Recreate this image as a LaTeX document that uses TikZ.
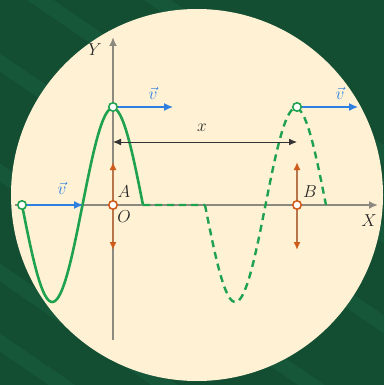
\documentclass[tikz,border=0pt]{standalone}
\usepackage{xcolor}
\usepackage{tikz}
\usetikzlibrary{calc,arrows.meta}
\definecolor{board}{HTML}{134E33}
\definecolor{stripe}{HTML}{1F6A45}
\definecolor{paper}{HTML}{FFF2D4}
\definecolor{axisgrey}{HTML}{8C8A80}
\definecolor{wave}{HTML}{1FA24F}
\definecolor{speed}{HTML}{2F7FE0}
\definecolor{swing}{HTML}{CF5A1A}
\definecolor{swingline}{HTML}{B8744A}

\begin{document}
\begin{tikzpicture}[x=1pt, y=-1pt,
    axis/.style={draw=axisgrey, line width=1.8pt, -{Latex[length=9pt,width=8pt]}},
    wavesolid/.style={draw=wave, line width=2.6pt},
    wavedash/.style={draw=wave, line width=2.4pt, dash pattern=on 7pt off 5pt},
    velocity/.style={draw=speed, line width=1.3pt, -{Latex[length=9pt,width=8pt]}},
    shake/.style={draw=swingline, line width=1.6pt, {Latex[length=8pt,width=7pt,color=swing]}-{Latex[length=8pt,width=7pt,color=swing]}},
    marker/.style={circle, draw=#1, fill=white, line width=1.6pt, inner sep=0pt, minimum size=8.5pt},
    lbl/.style={font=\fontsize{17}{20}\selectfont, text=black!85},
    vlbl/.style={font=\fontsize{17}{20}\selectfont, text=speed}]
  % background board and the cream disc
  \fill[board] (0,0) rectangle (384,385);
  \begin{scope}
    \clip (0,0) rectangle (384,385);
    \foreach \s in {-130,-50,40,150,250,320}
      \fill[stripe, opacity=0.35] (-20,\s) -- (-20,\s+18) -- (420,\s+318) -- (420,\s+300) -- cycle;
  \end{scope}
  \fill[paper] (197,195) circle (186);
  \useasboundingbox (0,0) rectangle (384,385);

  % key points
  \coordinate (O) at (113,205);
  \coordinate (Bpt) at (297,205);
  \coordinate (crestA) at (113,107);
  \coordinate (crestB) at (297,107);
  \coordinate (start) at (22,205);

  % axes
  \coordinate (xtail) at (15,205);
  \coordinate (xhead) at (378,205);
  \coordinate (ytail) at (113,340);
  \coordinate (yhead) at (113,37);
  \draw[axis] (xtail) -- (xhead);
  \draw[axis] (ytail) -- (yhead);

  % the wave
  \draw[wavesolid] plot[domain=22:143, samples=90, smooth] (\x, {205+97*sin((\x-22)/121*360)});
  \draw[wavedash] (143,205) -- (205,205)
    plot[domain=205:326, samples=90, smooth] (\x, {205+97*sin((\x-205)/121*360)});

  % velocities
  \coordinate (vA) at (173,107);
  \coordinate (vB) at (358,107);
  \coordinate (vS) at (83,205);
  \draw[velocity] (crestA) -- (vA);
  \draw[velocity] (crestB) -- (vB);
  \draw[velocity] (start) -- (vS);
  \node[vlbl] (vAlbl) at (153,93) {$\vec{v}$};
  \node[vlbl] (vBlbl) at (340,93) {$\vec{v}$};
  \node[vlbl] (vSlbl) at (62,188) {$\vec{v}$};

  % oscillation of A and B
  \coordinate (Aup) at (113,162);
  \coordinate (Adown) at (113,250);
  \coordinate (Bup) at (297,162);
  \coordinate (Bdown) at (297,250);
  \draw[shake] (Adown) -- (Aup);
  \draw[shake] (Bdown) -- (Bup);

  % distance x
  \coordinate (xl) at (113,142);
  \coordinate (xr) at (297,142);
  \draw[line width=1pt, black!80, {Latex[length=8pt,width=7pt]}-{Latex[length=8pt,width=7pt]}] (xl) -- (xr);
  \node[lbl] (xlbl) at (202,128) {$x$};

  % markers
  \node[marker=wave] (mS) at (start) {};
  \node[marker=wave] (mA) at (crestA) {};
  \node[marker=wave] (mB) at (crestB) {};
  \node[marker=swing] (mO) at (O) {};
  \node[marker=swing] (mBpt) at (Bpt) {};

  % labels
  \node[lbl] (Ylbl) at (95,50) {$Y$};
  \node[lbl] (Xlbl) at (369,221) {$X$};
  \node[lbl] (Olbl) at (124,217) {$O$};
  \node[lbl] (Albl) at (124,192) {$A$};
  \node[lbl] (Blbl) at (310,192) {$B$};
\end{tikzpicture}
\end{document}
